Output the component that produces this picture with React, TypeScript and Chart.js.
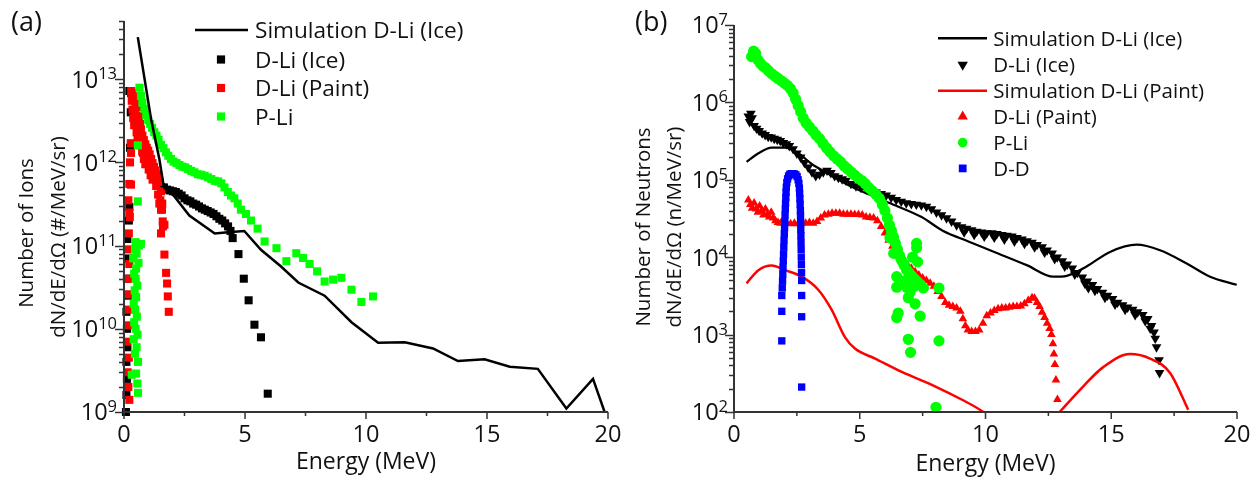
import React, { useEffect, useRef } from 'react';
import { Chart, registerables } from 'chart.js';

Chart.register(...registerables);

const FONT = '"Open Sans", "DejaVu Sans", Arial, sans-serif';
const TEXT = '#111111';
const AXIS = '#333333';
const BLACK = '#000000';
const RED = '#ff0000';
const GREEN = '#00ff00';
const BLUE = '#0000ff';

// ---------- shared axis content ----------
const xTickValues = [0, 5, 10, 15, 20];
const xMinorValues = [2.5, 7.5, 12.5, 17.5];
const xAxisTitle = 'Energy (MeV)';

// ---------- panel (a): ions ----------
const aYExponents = [9, 10, 11, 12, 13];
const aYTitle = ['Number of Ions', 'dN/dE/dΩ (#/MeV/sr)'];
const aLegendLabels = ['Simulation D-Li (Ice)', 'D-Li (Ice)', 'D-Li (Paint)', 'P-Li'];

const aSimIceE = [0.57, 1.12, 1.46, 1.65, 2.05, 2.7, 3.75, 4.3, 4.97, 5.66, 6.49, 7.2, 8.29, 9.4, 10.5, 11.6, 12.77, 13.8, 14.9, 15.94, 17.1, 18.28, 19.38, 19.86];
const aSimIceV = [3.2e13, 3.3e12, 1.1e12, 5.0e11, 4.0e11, 2.3e11, 1.4e11, 1.45e11, 1.5e11, 8.9e10, 5.6e10, 3.6e10, 2.5e10, 1.2e10, 6.8e9, 6.9e9, 5.8e9, 4.1e9, 4.3e9, 3.5e9, 3.3e9, 1.1e9, 2.5e9, 1.0e9];

const aIceE = [
  0.08, 0.10, 0.12, 0.10, 0.14, 0.12, 0.10, 0.15, 0.12, 0.18, 0.14, 0.20, 0.22, 0.25, 0.28, 0.30, 0.22,
  0.45, 0.60, 0.80, 1.00, 1.20, 1.40, 1.55,
  1.65, 1.78, 1.90, 2.02, 2.14, 2.26, 2.38, 2.50, 2.62, 2.74, 2.86, 2.98, 3.10, 3.22, 3.34, 3.46, 3.58, 3.70, 3.82, 3.94, 4.06, 4.18, 4.30, 4.40,
  4.49, 4.73, 4.95, 5.15, 5.39, 5.66, 5.94,
];
const aIceV = [
  1.0e9, 1.6e9, 2.5e9, 4.0e9, 6.0e9, 1.0e10, 1.6e10, 2.5e10, 4.0e10, 7.0e10, 1.2e11, 2.0e11, 2.9e11, 1.5e12, 4.0e12, 6.8e12, 7.2e12,
  3.0e12, 2.0e12, 1.3e12, 1.0e12, 8.0e11, 6.0e11, 5.0e11,
  5.0e11, 4.7e11, 4.6e11, 4.5e11, 4.4e11, 4.2e11, 4.0e11, 3.7e11, 3.5e11, 3.4e11, 3.2e11, 3.1e11, 2.95e11, 2.8e11, 2.7e11, 2.6e11, 2.5e11, 2.4e11, 2.25e11, 2.1e11, 2.0e11, 1.85e11, 1.7e11, 1.5e11,
  1.23e11, 7.9e10, 4.0e10, 2.2e10, 1.12e10, 7.9e9, 1.66e9,
];

const aPaintE = [
  0.22, 0.18, 0.15, 0.20, 0.12, 0.16, 0.20, 0.14, 0.18, 0.22, 0.16, 0.20, 0.24, 0.18, 0.22, 0.25, 0.28,
  0.30, 0.34, 0.38, 0.42, 0.47, 0.52, 0.57, 0.62, 0.66, 0.70, 0.76, 0.82, 0.88, 0.94, 1.00, 1.06, 1.12, 1.18, 1.24, 1.30, 1.36, 1.42, 1.48, 1.53, 1.58,
  0.32, 0.35, 0.38, 0.42, 0.47, 0.52, 0.56, 0.62, 0.68, 0.75, 0.82, 0.88, 0.95, 1.02, 1.10, 1.18, 1.26, 1.33, 1.41, 1.50, 1.57, 1.61,
  0.29, 0.29, 0.22,
  1.46, 1.53, 1.60, 1.67, 1.53, 1.67, 1.74, 1.78, 1.81, 1.85,
];
const aPaintV = [
  1.4e9, 2.0e9, 3.0e9, 4.5e9, 7.0e9, 1.1e10, 1.7e10, 2.6e10, 4.0e10, 6.0e10, 9.0e10, 1.4e11, 2.2e11, 3.5e11, 5.5e11, 1.0e12, 1.7e12,
  7.2e12, 6.8e12, 6.2e12, 5.8e12, 5.3e12, 5.0e12, 4.6e12, 3.6e12, 2.9e12, 2.5e12, 2.1e12, 1.85e12, 1.65e12, 1.5e12, 1.38e12, 1.25e12, 1.1e12, 9.8e11, 8.8e11, 8.0e11, 7.3e11, 6.6e11, 5.8e11, 4.5e11, 3.2e11,
  5.5e12, 4.3e12, 3.4e12, 2.8e12, 3.9e12, 2.3e12, 1.9e12, 2.4e12, 1.6e12, 1.35e12, 1.1e12, 9.5e11, 1.05e12, 8.2e11, 7.0e11, 6.2e11, 6.8e11, 5.2e11, 4.1e11, 3.5e11, 2.7e11, 1.7e11,
  1.3e12, 5.4e11, 2.5e11,
  3.2e11, 2.7e11, 1.95e11, 1.78e11, 1.4e11, 7.8e10, 4.7e10, 3.5e10, 2.45e10, 1.6e10,
];

const aPLiE = [
  0.58, 0.55, 0.50, 0.32, 0.58, 0.45, 0.52, 0.40, 0.56, 0.48, 0.42, 0.53, 0.46, 0.40, 0.50, 0.44, 0.55, 0.48, 0.42, 0.50, 0.60, 0.38, 0.52, 0.45, 0.62, 0.48, 0.70,
  0.57, 0.57,
  0.64, 0.70, 0.76, 0.84, 0.92, 1.00, 1.08, 1.16, 1.25, 1.34, 1.43, 1.53, 1.63, 1.73, 1.83, 1.94, 2.05, 2.17, 2.29, 2.41, 2.53, 2.65, 2.78, 2.91, 3.05, 3.19, 3.33, 3.47, 3.61, 3.75, 3.89, 4.02, 4.15, 4.29, 4.42, 4.56, 4.70, 4.83, 5.04,
  5.25, 5.52, 5.81, 6.30, 6.71, 7.12, 7.40, 7.67, 7.98, 8.29, 8.64, 8.98, 9.40, 9.81, 10.29,
];
const aPLiV = [
  1.7e9, 2.2e9, 2.9e9, 2.8e9, 4.0e9, 5.0e9, 6.0e9, 7.5e9, 8.5e9, 1.0e10, 1.2e10, 1.4e10, 1.7e10, 2.0e10, 2.4e10, 2.9e10, 3.3e10, 4.0e10, 4.6e10, 5.3e10, 6.2e10, 7.0e10, 8.0e10, 9.0e10, 1.0e11, 1.1e11, 1.05e11,
  1.6e12, 3.4e11,
  7.9e12, 6.3e12, 5.2e12, 4.4e12, 3.7e12, 3.2e12, 2.9e12, 2.6e12, 2.3e12, 2.1e12, 1.86e12, 1.62e12, 1.48e12, 1.32e12, 1.2e12, 1.1e12, 1.02e12, 9.8e11, 9.3e11, 8.9e11, 8.7e11, 8.3e11, 7.9e11, 7.6e11, 7.2e11, 7.1e11, 6.9e11, 6.6e11, 6.3e11, 6.0e11, 5.9e11, 5.6e11, 5.0e11, 4.4e11, 4.0e11, 3.7e11, 3.2e11, 2.7e11, 2.4e11,
  2.0e11, 1.6e11, 1.12e11, 9.3e10, 6.5e10, 8.1e10, 7.1e10, 6.0e10, 4.9e10, 3.7e10, 3.9e10, 4.1e10, 2.95e10, 2.1e10, 2.45e10,
];

// ---------- panel (b): neutrons ----------
const bYExponents = [2, 3, 4, 5, 6, 7];
const bYTitle = ['Number of Neutrons', 'dN/dE/dΩ (n/MeV/sr)'];
const bLegendLabels = ['Simulation D-Li (Ice)', 'D-Li (Ice)', 'Simulation D-Li (Paint)', 'D-Li (Paint)', 'P-Li', 'D-D'];

const bSimIceE = [0.50, 0.97, 1.5, 2.03, 2.56, 3.09, 3.75, 4.68, 5.61, 6.40, 7.46, 8.3, 9.32, 10.35, 11.64, 12.7, 13.23, 14.02, 14.95, 16.01, 16.94, 18.0, 18.93, 19.99];
const bSimIceV = [1.7e5, 2.2e5, 2.6e5, 2.6e5, 2.2e5, 1.6e5, 1.2e5, 8.1e4, 6.0e4, 4.7e4, 3.3e4, 2.2e4, 1.6e4, 1.17e4, 7.9e3, 5.6e3, 5.75e3, 7.6e3, 1.17e4, 1.45e4, 1.23e4, 8.3e3, 5.6e3, 4.4e3];

const bIceE = [
  0.57, 0.62, 0.67, 0.72, 0.80, 0.90, 1.00, 1.12, 1.24, 1.36, 1.48, 1.60, 1.72, 1.84, 1.96, 2.08, 2.20, 2.35, 2.50, 2.65,
  2.80, 2.95, 3.10, 3.25, 3.40, 3.55, 3.70, 3.85, 4.00, 4.15, 4.30, 4.45, 4.65, 4.85, 5.05, 5.25, 5.45, 5.65, 5.85, 6.05,
  6.25, 6.45, 6.65, 6.85, 7.05, 7.25, 7.45, 7.65, 7.85, 8.05, 8.25, 8.45, 8.65, 8.85, 9.05, 9.25, 9.45, 9.65, 9.85, 10.05,
  10.25, 10.45, 10.65, 10.85, 11.05, 11.25, 11.45, 11.65, 11.85, 12.05, 12.25, 12.45, 12.65, 12.85, 13.05, 13.25, 13.45, 13.65, 13.85, 14.05,
  14.09, 14.25, 14.45, 14.65, 14.85, 15.05, 15.25, 15.45, 15.65, 15.85, 16.05, 16.25, 16.45, 16.60, 16.70, 16.75, 16.80, 16.90, 16.92,
  9.15, 9.55, 9.95, 10.35, 10.75, 11.15, 11.55, 11.95, 12.35, 12.75, 13.15, 13.55, 13.95, 14.35, 14.75, 15.15, 15.55, 15.95, 16.35, 16.55,
];
const bIceV = [
  6.6e5, 5.6e5, 7.2e5, 6.3e5, 5.0e5, 4.6e5, 4.3e5, 4.0e5, 3.8e5, 3.6e5, 3.55e5, 3.4e5, 3.3e5, 3.2e5, 3.0e5, 2.9e5, 2.75e5, 2.5e5, 2.2e5, 1.95e5,
  1.66e5, 1.45e5, 1.26e5, 1.12e5, 1.17e5, 1.26e5, 1.32e5, 1.23e5, 1.12e5, 1.07e5, 1.02e5, 9.8e4, 8.9e4, 8.3e4, 7.9e4, 7.6e4, 7.2e4, 6.9e4, 6.6e4, 6.3e4,
  5.9e4, 5.5e4, 5.25e4, 5.0e4, 4.9e4, 4.8e4, 4.7e4, 4.5e4, 4.2e4, 3.8e4, 3.5e4, 3.2e4, 2.9e4, 2.6e4, 2.45e4, 2.35e4, 2.25e4, 2.15e4, 2.1e4, 2.05e4,
  2.05e4, 2.0e4, 1.95e4, 1.9e4, 1.86e4, 1.78e4, 1.7e4, 1.62e4, 1.55e4, 1.45e4, 1.35e4, 1.23e4, 1.12e4, 1.0e4, 8.9e3, 8.1e3, 7.2e3, 6.3e3, 5.5e3, 4.9e3,
  4.0e3, 4.4e3, 3.9e3, 3.5e3, 3.2e3, 2.9e3, 2.6e3, 2.4e3, 2.25e3, 2.1e3, 1.95e3, 1.8e3, 1.6e3, 1.3e3, 1.07e3, 890, 690, 470, 320,
  2.1e4, 1.95e4, 1.85e4, 1.8e4, 1.7e4, 1.6e4, 1.5e4, 1.35e4, 1.15e4, 9.5e3, 7.6e3, 6.0e3, 4.6e3, 3.7e3, 3.0e3, 2.45e3, 2.1e3, 1.8e3, 1.5e3, 1.2e3,
];

const bSimPaintE = [0.50, 0.97, 1.5, 2.03, 2.69, 3.35, 3.88, 4.41, 4.81, 5.61, 6.67, 7.99, 9.05, 9.91, 10.6, 11.5, 12.4, 13.03, 13.89, 14.68, 15.75, 16.54, 17.34, 18.06];
const bSimPaintV = [4.6e3, 6.8e3, 7.8e3, 6.8e3, 5.6e3, 3.8e3, 2.1e3, 930, 660, 490, 330, 215, 145, 100, 63, 50, 63, 107, 215, 380, 560, 490, 320, 107];

const bPaintE = [
  0.57, 0.65, 0.72, 0.80, 0.88, 0.95, 1.02, 1.10, 1.17, 1.25, 1.33, 1.40, 1.48, 1.56, 1.65, 1.75, 1.85, 1.95, 2.10, 2.25,
  2.40, 2.55, 2.70, 2.85, 3.00, 3.15, 3.30, 3.45, 3.60, 3.75, 3.90, 4.05, 4.20, 4.35, 4.50, 4.65, 4.80, 4.95, 5.10, 5.25,
  5.40, 5.55, 5.70, 5.85, 6.00, 6.15, 6.30, 6.45, 6.60, 6.75, 6.90, 7.05, 7.20, 7.35, 7.50, 7.65, 7.80, 7.95, 8.10, 8.25,
  8.40, 8.55, 8.70, 8.85, 9.00, 9.10, 9.20, 9.30, 9.45, 9.60, 9.75, 9.90, 10.05, 10.20, 10.35, 10.50, 10.65, 10.80, 10.95, 11.10,
  11.25, 11.40, 11.55, 11.70, 11.85, 11.95, 12.05, 12.15, 12.25, 12.35, 12.45, 12.55, 12.62, 12.68, 12.72, 12.76, 12.80, 12.86,
];
const bPaintV = [
  5.5e4, 4.8e4, 4.3e4, 5.0e4, 4.2e4, 3.8e4, 4.6e4, 4.0e4, 3.5e4, 4.2e4, 3.6e4, 3.3e4, 3.8e4, 3.2e4, 2.95e4, 2.8e4, 2.75e4, 2.8e4, 2.75e4, 2.7e4,
  2.75e4, 2.7e4, 2.75e4, 2.75e4, 2.8e4, 2.75e4, 2.9e4, 3.2e4, 3.5e4, 3.6e4, 3.7e4, 3.7e4, 3.7e4, 3.6e4, 3.6e4, 3.6e4, 3.55e4, 3.55e4, 3.5e4, 3.3e4,
  3.25e4, 3.2e4, 2.95e4, 2.5e4, 2.05e4, 1.66e4, 1.38e4, 1.15e4, 1.0e4, 8.7e3, 7.9e3, 7.2e3, 6.5e3, 5.9e3, 5.4e3, 5.0e3, 4.6e3, 4.2e3, 3.6e3, 3.1e3,
  2.6e3, 2.4e3, 2.3e3, 2.2e3, 2.0e3, 1.6e3, 1.3e3, 1.15e3, 1.1e3, 1.1e3, 1.15e3, 1.4e3, 1.75e3, 1.9e3, 2.05e3, 2.15e3, 2.2e3, 2.2e3, 2.25e3, 2.3e3,
  2.3e3, 2.35e3, 2.5e3, 2.75e3, 3.0e3, 2.95e3, 2.6e3, 2.3e3, 1.95e3, 1.66e3, 1.4e3, 1.2e3, 1.0e3, 760, 560, 410, 260, 145,
];

const bPLiE = [
  0.70, 0.78, 0.86, 0.95, 1.05, 1.15, 1.25, 1.37, 1.50, 1.62, 1.75, 1.88, 2.00, 2.12, 2.24, 2.35, 2.45, 2.55, 2.65, 2.75,
  2.87, 3.00, 3.13, 3.26, 3.40, 3.54, 3.68, 3.82, 3.96, 4.10, 4.24, 4.38, 4.52, 4.66, 4.80, 4.94, 5.08, 5.22, 5.36, 5.50,
  5.64, 5.78, 5.90, 6.00, 6.10, 6.18, 6.26, 6.34, 6.42, 6.50, 6.58, 6.66, 6.76, 6.86, 6.96, 7.06, 7.18, 7.30, 7.42, 7.53,
  6.47, 6.47, 6.87, 6.93, 7.20, 7.40, 6.53, 6.47, 6.93, 7.02, 8.15, 8.15, 8.03, 7.26, 7.26, 7.30, 6.20, 6.35, 6.80, 7.00, 7.10, 7.15,
];
const bPLiV = [
  3.9e6, 4.6e6, 4.3e6, 3.55e6, 3.2e6, 2.95e6, 2.8e6, 2.57e6, 2.34e6, 2.19e6, 2.04e6, 1.9e6, 1.78e6, 1.66e6, 1.51e6, 1.32e6, 1.1e6, 9.1e5, 7.6e5, 6.3e5,
  5.4e5, 4.8e5, 4.3e5, 3.8e5, 3.4e5, 2.95e5, 2.57e5, 2.29e5, 2.04e5, 1.86e5, 1.7e5, 1.51e5, 1.38e5, 1.26e5, 1.15e5, 1.05e5, 9.8e4, 8.9e4, 7.9e4, 7.2e4,
  6.5e4, 5.75e4, 4.8e4, 4.0e4, 3.2e4, 2.6e4, 2.2e4, 1.82e4, 1.51e4, 1.26e4, 1.05e4, 9.1e3, 7.9e3, 6.9e3, 6.3e3, 5.75e3, 5.25e3, 4.8e3, 4.4e3, 4.0e3,
  5.6e3, 4.1e3, 4.1e3, 3.0e3, 2.5e3, 1.74e3, 1.9e3, 1.66e3, 870, 590, 4.0e3, 830, 115, 1.51e4, 1.32e4, 8.7e3, 1.78e4, 1.12e4, 5.0e3, 3.55e3, 1.0e4, 4.2e3,
];

const bDDE = [
  1.90, 1.90, 1.90, 1.92, 1.93, 1.94, 1.95, 1.96, 1.97, 1.98, 1.99, 2.00, 2.01, 2.02, 2.03, 2.04, 2.05, 2.06, 2.07, 2.08, 2.10, 2.13, 2.17, 2.22,
  2.28, 2.34, 2.40, 2.46,
  2.51, 2.55, 2.58, 2.60, 2.61, 2.62, 2.63, 2.64, 2.645, 2.65, 2.655, 2.66, 2.665, 2.67, 2.675, 2.68, 2.685, 2.69, 2.69, 2.69, 2.69,
];
const bDDV = [
  830, 2000, 3200, 4000, 4900, 6000, 7400, 9000, 1.1e4, 1.35e4, 1.65e4, 2.0e4, 2.4e4, 2.9e4, 3.5e4, 4.2e4, 5.0e4, 5.9e4, 6.9e4, 8.0e4, 9.2e4, 1.03e5, 1.12e5, 1.18e5,
  1.2e5, 1.2e5, 1.19e5, 1.16e5,
  1.1e5, 1.0e5, 9.0e4, 7.8e4, 6.7e4, 5.7e4, 4.8e4, 4.0e4, 3.4e4, 2.8e4, 2.3e4, 1.9e4, 1.55e4, 1.25e4, 1.0e4, 8000, 6300, 5000, 3200, 1700, 210,
];

// ---------- helpers ----------
const pts = (xs: number[], ys: number[]) => xs.map((x, i) => ({ x, y: ys[i] }));

type Kind = 'line' | 'rect' | 'circle' | 'triUp' | 'triDown';

function drawMarker(ctx: CanvasRenderingContext2D, kind: Kind, x: number, y: number, r: number, color: string) {
  ctx.fillStyle = color;
  ctx.beginPath();
  if (kind === 'rect') {
    const s = r * Math.SQRT1_2;
    ctx.rect(x - s, y - s, 2 * s, 2 * s);
  } else if (kind === 'circle') {
    ctx.arc(x, y, r, 0, Math.PI * 2);
  } else if (kind === 'triUp') {
    ctx.moveTo(x, y - r);
    ctx.lineTo(x + r * 0.866, y + r / 2);
    ctx.lineTo(x - r * 0.866, y + r / 2);
    ctx.closePath();
  } else if (kind === 'triDown') {
    ctx.moveTo(x, y + r);
    ctx.lineTo(x + r * 0.866, y - r / 2);
    ctx.lineTo(x - r * 0.866, y - r / 2);
    ctx.closePath();
  }
  ctx.fill();
}

type Deco = {
  letter: string; letterX: number; letterY: number;
  yExps: number[]; yLabelRight: number;
  yTitles: { text: string; x: number; cy: number }[];
  xTitleCx: number; xTitleY: number; xTickY: number;
  legend: { label: string; kind: Kind; color: string; r: number }[];
  legendRows: number[]; legendLine: [number, number]; legendMarkerX: number; legendTextX: number; legendSize: number;
};

function makeDecor(cfg: Deco) {
  return {
    id: 'decor',
    afterDraw(chart: any) {
      const ctx: CanvasRenderingContext2D = chart.ctx;
      const ca = chart.chartArea;
      const xs = chart.scales.x;
      const ys = chart.scales.y;
      ctx.save();
      // axes
      ctx.strokeStyle = AXIS;
      ctx.lineWidth = 2;
      ctx.lineJoin = 'miter';
      ctx.beginPath();
      ctx.moveTo(ca.left, ca.top);
      ctx.lineTo(ca.left, ca.bottom);
      ctx.lineTo(ca.right, ca.bottom);
      ctx.stroke();
      // ticks
      ctx.lineWidth = 1.5;
      ctx.beginPath();
      xTickValues.forEach((v) => {
        const px = xs.getPixelForValue(v);
        ctx.moveTo(px, ca.bottom);
        ctx.lineTo(px, ca.bottom + 7);
      });
      xMinorValues.forEach((v) => {
        const px = xs.getPixelForValue(v);
        ctx.moveTo(px, ca.bottom);
        ctx.lineTo(px, ca.bottom + 4);
      });
      const e0 = cfg.yExps[0];
      const e1 = cfg.yExps[cfg.yExps.length - 1];
      for (let e = e0; e <= e1; e++) {
        for (let k = 1; k <= 9; k++) {
          const v = k * Math.pow(10, e);
          if (v < ys.min * 0.999 || v > ys.max * 1.001) continue;
          const py = Math.round(ys.getPixelForValue(v)) + 0.5;
          ctx.moveTo(ca.left, py);
          ctx.lineTo(ca.left - (k === 1 ? 9 : 5), py);
        }
      }
      ctx.stroke();

      ctx.fillStyle = TEXT;
      // x tick labels
      ctx.font = `23.5px ${FONT}`;
      ctx.textAlign = 'center';
      ctx.textBaseline = 'alphabetic';
      xTickValues.forEach((v) => ctx.fillText(String(v), xs.getPixelForValue(v), cfg.xTickY));
      // y tick labels 10^n
      cfg.yExps.forEach((e) => {
        const py = ys.getPixelForValue(Math.pow(10, e));
        ctx.textAlign = 'right';
        ctx.font = `16.5px ${FONT}`;
        const ew = ctx.measureText(String(e)).width;
        ctx.fillText(String(e), cfg.yLabelRight, py);
        ctx.font = `23.5px ${FONT}`;
        ctx.fillText('10', cfg.yLabelRight - ew, py + 8.4);
      });
      // axis titles
      ctx.font = `23px ${FONT}`;
      ctx.textAlign = 'center';
      ctx.fillText(xAxisTitle, cfg.xTitleCx, cfg.xTitleY);
      ctx.font = `20.5px ${FONT}`;
      cfg.yTitles.forEach((t) => {
        ctx.save();
        ctx.translate(t.x, t.cy);
        ctx.rotate(-Math.PI / 2);
        ctx.textAlign = 'center';
        ctx.fillText(t.text, 0, 0);
        ctx.restore();
      });
      // panel letter
      ctx.font = `27px ${FONT}`;
      ctx.textAlign = 'left';
      ctx.fillText(cfg.letter, cfg.letterX, cfg.letterY);
      // legend
      ctx.font = `${cfg.legendSize}px ${FONT}`;
      cfg.legend.forEach((it, i) => {
        const y = cfg.legendRows[i];
        if (it.kind === 'line') {
          ctx.strokeStyle = it.color;
          ctx.lineWidth = 2.5;
          ctx.beginPath();
          ctx.moveTo(cfg.legendLine[0], y);
          ctx.lineTo(cfg.legendLine[1], y);
          ctx.stroke();
        } else {
          drawMarker(ctx, it.kind, cfg.legendMarkerX, y, it.r, it.color);
        }
        ctx.fillStyle = TEXT;
        ctx.textAlign = 'left';
        ctx.fillText(it.label, cfg.legendTextX, y + cfg.legendSize * 0.357);
      });
      ctx.restore();
    },
  };
}

function lineSet(xs: number[], ys: number[], color: string, order: number, smooth: boolean, width = 2.5) {
  return {
    data: pts(xs, ys),
    showLine: true,
    borderColor: color,
    backgroundColor: color,
    borderWidth: width,
    pointRadius: 0,
    fill: false,
    order,
    cubicInterpolationMode: smooth ? 'monotone' : 'default',
    tension: 0,
  };
}

function markerSet(xs: number[], ys: number[], color: string, style: string, radius: number, order: number, rotation = 0) {
  return {
    data: pts(xs, ys),
    showLine: false,
    pointStyle: style,
    pointRadius: radius,
    pointRotation: rotation,
    pointBackgroundColor: color,
    pointBorderColor: color,
    pointBorderWidth: 0,
    backgroundColor: color,
    borderColor: color,
    order,
    clip: 12,
  };
}

function baseOptions(yMin: number, yMax: number, padding: any) {
  return {
    responsive: false,
    animation: false,
    events: [],
    layout: { padding },
    plugins: { legend: { display: false }, tooltip: { enabled: false } },
    scales: {
      x: { type: 'linear', min: 0, max: 20, display: false },
      y: { type: 'logarithmic', min: yMin, max: yMax, display: false },
    },
  };
}

const A_W = 640;
const B_LEFT = 615;
const B_W = 645;
const H = 477;

export default function App() {
  const refA = useRef<HTMLCanvasElement>(null);
  const refB = useRef<HTMLCanvasElement>(null);

  useEffect(() => {
    const decoA = makeDecor({
      letter: '(a)', letterX: 11, letterY: 31,
      yExps: aYExponents, yLabelRight: 117,
      yTitles: [
        { text: aYTitle[0], x: 33, cy: 233 },
        { text: aYTitle[1], x: 65, cy: 237 },
      ],
      xTitleCx: 366, xTitleY: 469, xTickY: 442,
      legend: [
        { label: aLegendLabels[0], kind: 'line', color: BLACK, r: 0 },
        { label: aLegendLabels[1], kind: 'rect', color: BLACK, r: 5.8 },
        { label: aLegendLabels[2], kind: 'rect', color: RED, r: 5.8 },
        { label: aLegendLabels[3], kind: 'rect', color: GREEN, r: 5.8 },
      ],
      legendRows: [30, 59.5, 88, 116.5], legendLine: [195, 248], legendMarkerX: 221, legendTextX: 255, legendSize: 22.6,
    });
    const chartA = new Chart(refA.current as HTMLCanvasElement, {
      type: 'scatter',
      data: {
        datasets: [
          markerSet(aIceE, aIceV, BLACK, 'rect', 5.7, 3),
          markerSet(aPaintE, aPaintV, RED, 'rect', 5.7, 2),
          markerSet(aPLiE, aPLiV, GREEN, 'rect', 5.7, 1),
          lineSet(aSimIceE, aSimIceV, BLACK, 0, false, 2.5),
        ] as any,
      },
      options: baseOptions(1e9, 5e13, { left: 124, top: 21, right: A_W - 608, bottom: H - 412 }) as any,
      plugins: [decoA as any],
    });

    const decoB = makeDecor({
      letter: '(b)', letterX: 20, letterY: 31,
      yExps: bYExponents, yLabelRight: 728 - B_LEFT,
      yTitles: [
        { text: bYTitle[0], x: 650 - B_LEFT, cy: 227 },
        { text: bYTitle[1], x: 681 - B_LEFT, cy: 227 },
      ],
      xTitleCx: 985.5 - B_LEFT, xTitleY: 471, xTickY: 442,
      legend: [
        { label: bLegendLabels[0], kind: 'line', color: BLACK, r: 0 },
        { label: bLegendLabels[1], kind: 'triDown', color: BLACK, r: 6 },
        { label: bLegendLabels[2], kind: 'line', color: RED, r: 0 },
        { label: bLegendLabels[3], kind: 'triUp', color: RED, r: 6 },
        { label: bLegendLabels[4], kind: 'circle', color: GREEN, r: 4.8 },
        { label: bLegendLabels[5], kind: 'rect', color: BLUE, r: 5.5 },
      ],
      legendRows: [38.2, 64.8, 90.8, 116.6, 142.6, 168.4],
      legendLine: [938 - B_LEFT, 987 - B_LEFT], legendMarkerX: 962.7 - B_LEFT, legendTextX: 993.3 - B_LEFT, legendSize: 20.5,
    });
    const chartB = new Chart(refB.current as HTMLCanvasElement, {
      type: 'scatter',
      data: {
        datasets: [
          lineSet(bSimIceE, bSimIceV, BLACK, 5, true, 2.2),
          markerSet(bIceE, bIceV, BLACK, 'triangle', 5.6, 4, 180),
          lineSet(bSimPaintE, bSimPaintV, RED, 3, true, 2.5),
          markerSet(bPaintE, bPaintV, RED, 'triangle', 5, 2),
          markerSet(bPLiE, bPLiV, GREEN, 'circle', 5.6, 1),
          markerSet(bDDE, bDDV, BLUE, 'rect', 5.2, 0),
        ] as any,
      },
      options: baseOptions(1e2, 1e7, { left: 734 - B_LEFT, top: 25, right: B_LEFT + B_W - 1237, bottom: H - 412 }) as any,
      plugins: [decoB as any],
    });

    return () => {
      chartA.destroy();
      chartB.destroy();
    };
  }, []);

  return (
    <div style={{ position: 'fixed', left: 0, top: 0, width: 1260, height: H, background: '#ffffff', overflow: 'hidden' }}>
      <canvas ref={refA} width={A_W} height={H} style={{ position: 'absolute', left: 0, top: 0, width: A_W, height: H }} />
      <canvas ref={refB} width={B_W} height={H} style={{ position: 'absolute', left: B_LEFT, top: 0, width: B_W, height: H }} />
    </div>
  );
}
